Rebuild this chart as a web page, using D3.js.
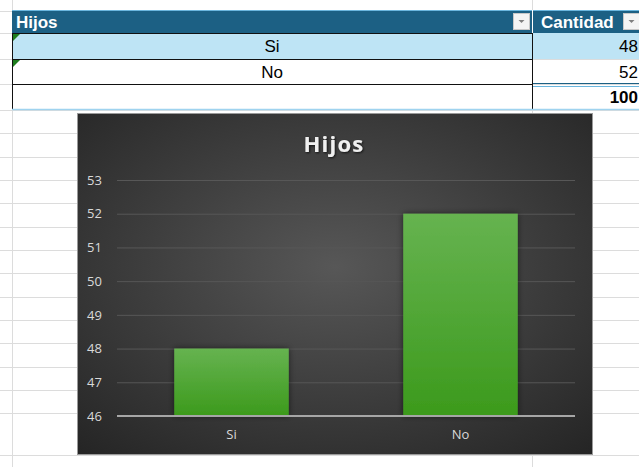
<!DOCTYPE html>
<html>
<head>
<meta charset="utf-8">
<script src="https://cdn.jsdelivr.net/npm/d3@7"></script>
<style>
  html, body { margin: 0; padding: 0; background: #fff; overflow: hidden; }
</style>
</head>
<body>
<script>
// data
var categories = ["Si", "No"];
var values = [48, 52];
var total = 100;
var yTicks = [46, 47, 48, 49, 50, 51, 52, 53];
var chartTitle = "Hijos";
var colHeaders = ["Hijos", "Cantidad"];

var W = 639, H = 467;
var svg = d3.select("body").append("svg").attr("width", W).attr("height", H);
var defs = svg.append("defs");

// sheet gridlines (spreadsheet rows)
var sheetRows = [11, 33, 59, 84, 110, 133, 157, 180, 203, 227, 250, 273, 297, 320, 343, 367, 390, 413, 455];
svg.selectAll("line.row").data(sheetRows).enter().append("line")
  .attr("x1", 0).attr("x2", W).attr("y1", function(d){ return d + 0.5; }).attr("y2", function(d){ return d + 0.5; })
  .attr("stroke", "#dcdcdc");
svg.append("line").attr("x1", 12.5).attr("x2", 12.5).attr("y1", 0).attr("y2", H).attr("stroke", "#dcdcdc");
svg.append("line").attr("x1", 532.5).attr("x2", 532.5).attr("y1", 0).attr("y2", H).attr("stroke", "#dcdcdc");

// table
var tbl = svg.append("g");
var tx0 = 12, tx1 = 532, tx2 = 660;
var rowsY = [10, 33, 59, 84, 109];
tbl.append("rect").attr("x", tx0).attr("y", rowsY[0]).attr("width", tx2 - tx0).attr("height", rowsY[1] - rowsY[0]).attr("fill", "#1c6084");
tbl.append("line").attr("x1", tx0).attr("x2", tx2).attr("y1", 10.5).attr("y2", 10.5).attr("stroke", "#6bb6de");
tbl.append("rect").attr("x", tx0).attr("y", rowsY[1]).attr("width", tx2 - tx0).attr("height", rowsY[2] - rowsY[1]).attr("fill", "#bee4f5");
tbl.append("line").attr("x1", tx1 + 0.5).attr("x2", tx1 + 0.5).attr("y1", 10).attr("y2", 33).attr("stroke", "#ffffff");

tbl.selectAll("text.hdr").data(colHeaders).enter().append("text")
  .attr("x", function(d, i){ return i === 0 ? 16 : 541; })
  .attr("y", 28)
  .attr("font-family", "Liberation Sans, Arial, sans-serif")
  .attr("font-weight", "bold").attr("font-size", 17).attr("fill", "#fff")
  .text(function(d){ return d; });

// filter buttons
[513, 623].forEach(function(bx){
  tbl.append("rect").attr("x", bx + 0.5).attr("y", 13.5).attr("width", 16).attr("height", 16)
    .attr("fill", "#f4f4f4").attr("stroke", "#c8c8c8");
  tbl.append("path").attr("d", "M" + (bx + 5.5) + ",20 L" + (bx + 11.5) + ",20 L" + (bx + 8.5) + ",23 Z").attr("fill", "#808080");
});

// borders of Hijos column
[33, 59, 84].forEach(function(y){
  tbl.append("line").attr("x1", tx0).attr("x2", tx1).attr("y1", y + 0.5).attr("y2", y + 0.5).attr("stroke", "#111");
});
tbl.append("line").attr("x1", tx0 + 0.5).attr("x2", tx0 + 0.5).attr("y1", 33).attr("y2", 109).attr("stroke", "#111");
tbl.append("line").attr("x1", tx1 + 0.5).attr("x2", tx1 + 0.5).attr("y1", 33).attr("y2", 109).attr("stroke", "#111");
tbl.append("line").attr("x1", tx0).attr("x2", tx2).attr("y1", 109.5).attr("y2", 109.5).attr("stroke", "#9fd3ef").attr("stroke-width", 1.5);
// total line under values
tbl.append("line").attr("x1", tx1 + 1).attr("x2", tx2).attr("y1", 83.5).attr("y2", 83.5).attr("stroke", "#1c6084");
tbl.append("line").attr("x1", tx1 + 1).attr("x2", tx2).attr("y1", 86.5).attr("y2", 86.5).attr("stroke", "#6bb6de");

// error indicators
[33, 59].forEach(function(y){
  tbl.append("path").attr("d", "M13," + (y + 1) + " L20," + (y + 1) + " L13," + (y + 8) + " Z").attr("fill", "#1e7d1e");
});

tbl.selectAll("text.cat").data(categories).enter().append("text")
  .attr("x", (tx0 + tx1) / 2).attr("y", function(d, i){ return rowsY[i + 1] + 19; })
  .attr("text-anchor", "middle")
  .attr("font-family", "Liberation Sans, Arial, sans-serif").attr("font-size", 17).attr("fill", "#000")
  .text(function(d){ return d; });
tbl.selectAll("text.val").data(values).enter().append("text")
  .attr("x", 638).attr("y", function(d, i){ return rowsY[i + 1] + 19; })
  .attr("text-anchor", "end")
  .attr("font-family", "Liberation Sans, Arial, sans-serif").attr("font-size", 17).attr("fill", "#000")
  .text(function(d){ return d; });
tbl.append("text").attr("x", 638).attr("y", rowsY[3] + 19).attr("text-anchor", "end")
  .attr("font-family", "Liberation Sans, Arial, sans-serif").attr("font-size", 17).attr("font-weight", "bold")
  .text(total);

// chart
var cx = 77, cy = 113, cw = 516, ch = 342;
var bg = defs.append("radialGradient").attr("id", "bg").attr("cx", "50%").attr("cy", "45%").attr("r", "75%");
bg.append("stop").attr("offset", "0%").attr("stop-color", "#575757");
bg.append("stop").attr("offset", "100%").attr("stop-color", "#242424");
var barGrad = defs.append("linearGradient").attr("id", "barg").attr("x1", 0).attr("x2", 0).attr("y1", 0).attr("y2", 1);
barGrad.append("stop").attr("offset", "0%").attr("stop-color", "#66b350");
barGrad.append("stop").attr("offset", "100%").attr("stop-color", "#3c9a1c");
var sh = defs.append("filter").attr("id", "sh").attr("x", "-20%").attr("y", "-20%").attr("width", "140%").attr("height", "140%");
sh.append("feDropShadow").attr("dx", 0).attr("dy", 0).attr("stdDeviation", 3).attr("flood-color", "#000").attr("flood-opacity", 0.55);
var tsh = defs.append("filter").attr("id", "tsh");
tsh.append("feDropShadow").attr("dx", 1).attr("dy", 1).attr("stdDeviation", 1).attr("flood-color", "#000").attr("flood-opacity", 0.7);

var chart = svg.append("g").attr("transform", "translate(" + cx + "," + cy + ")");
chart.append("rect").attr("x", 0.5).attr("y", 0.5).attr("width", cw - 1).attr("height", ch - 1)
  .attr("fill", "url(#bg)").attr("stroke", "#9a9a9a");

chart.append("text").attr("x", 257).attr("y", 39).attr("text-anchor", "middle")
  .attr("font-family", "Open Sans, sans-serif").attr("font-weight", "bold").attr("font-size", 22)
  .attr("letter-spacing", 1.2).attr("fill", "#f0f0f0").attr("filter", "url(#tsh)")
  .text(chartTitle);

var x = d3.scaleBand().domain(categories).range([40, 498]).paddingInner(0.5).paddingOuter(0.25);
var y = d3.scaleLinear().domain([46, 53]).range([303, 67]);

var yAxis = chart.append("g").attr("transform", "translate(40,0)")
  .call(d3.axisLeft(y).tickValues(yTicks).tickSize(-458).tickPadding(14).tickFormat(d3.format("d")));
yAxis.select(".domain").remove();
yAxis.selectAll(".tick line").attr("stroke", "#575757");
yAxis.selectAll(".tick text").attr("fill", "#d9d9d9").attr("font-family", "Open Sans, sans-serif").attr("font-size", 13)
  .attr("text-anchor", "start").attr("x", -30);

chart.selectAll("rect.bar").data(values).enter().append("rect")
  .attr("x", function(d, i){ return x(categories[i]); })
  .attr("y", function(d){ return y(d); })
  .attr("width", x.bandwidth())
  .attr("height", function(d){ return y(46) - y(d); })
  .attr("fill", "url(#barg)").attr("filter", "url(#sh)");

var xAxis = chart.append("g").attr("transform", "translate(0," + y(46) + ")")
  .call(d3.axisBottom(x).tickSize(0).tickPadding(14));
xAxis.select(".domain").attr("stroke", "#a6a6a6").attr("stroke-width", 2).attr("d", "M40,0H498");
xAxis.selectAll(".tick text").attr("fill", "#d9d9d9").attr("font-family", "Open Sans, sans-serif").attr("font-size", 13);
</script>
</body>
</html>
